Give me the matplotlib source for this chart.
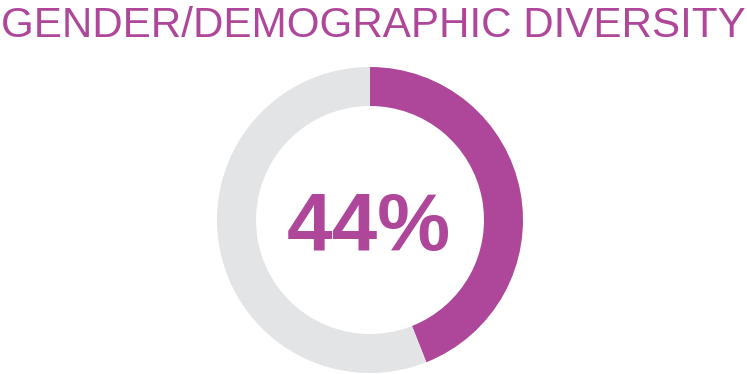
import matplotlib
matplotlib.use("Agg")
import matplotlib.pyplot as plt

TITLE = "GENDER/DEMOGRAPHIC DIVERSITY"
LABELS = ["Diverse", "Other"]
SHARES = [44, 56]
CENTER_LABEL = "44%"

PURPLE = "#AE4799"
GREY = "#E3E4E6"

W, H = 747, 374
fig = plt.figure(figsize=(W / 100, H / 100), dpi=100)
ax = fig.add_axes([0, 0, 1, 1])
ax.set_xlim(0, W)
ax.set_ylim(0, H)
ax.set_aspect("equal")
ax.axis("off")

# donut, clockwise from 12 o'clock
ax.pie(SHARES, colors=[PURPLE, GREY], startangle=90, counterclock=False,
       radius=153, center=(370, H - 220),
       wedgeprops=dict(width=39, edgecolor="none", linewidth=0))
ax.set_xlim(0, W)
ax.set_ylim(0, H)

ax.text(369, H - 220, CENTER_LABEL, ha="center", va="center_baseline",
        fontsize=59, fontweight="bold", color=PURPLE, family="Liberation Sans")

fig.text(1 / W, 1 - 37 / H, TITLE, ha="left", va="baseline",
         fontsize=30.3, color=PURPLE, family="Liberation Sans")

fig.savefig("out.png", dpi=100)
